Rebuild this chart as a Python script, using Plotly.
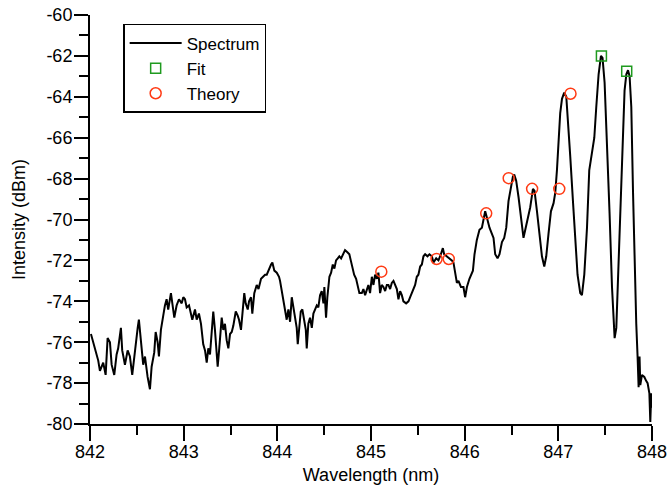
import plotly.graph_objects as go

wavelength = [
    842.010, 842.052, 842.088, 842.106, 842.141, 842.167, 842.188, 842.213, 842.231, 842.259,
    842.284, 842.301, 842.330, 842.344, 842.373, 842.402, 842.426, 842.451, 842.480, 842.509,
    842.522, 842.544, 842.568, 842.587, 842.615, 842.640, 842.658, 842.686, 842.701, 842.722,
    842.736, 842.757, 842.782, 842.800, 842.818, 842.835, 842.864, 842.878, 842.900, 842.925,
    842.950, 842.979, 842.996, 843.014, 843.032, 843.057, 843.078, 843.092, 843.121, 843.139,
    843.163, 843.185, 843.209, 843.228, 843.246, 843.263, 843.281, 843.299, 843.316, 843.334,
    843.353, 843.363, 843.380, 843.406, 843.423, 843.441, 843.459, 843.477, 843.495, 843.513,
    843.530, 843.556, 843.577, 843.591, 843.612, 843.626, 843.647, 843.662, 843.684, 843.698,
    843.719, 843.733, 843.754, 843.780, 843.799, 843.826, 843.851, 843.869, 843.887, 843.911,
    843.933, 843.947, 843.968, 843.994, 844.018, 844.029, 844.047, 844.064, 844.082, 844.100,
    844.118, 844.136, 844.154, 844.171, 844.189, 844.207, 844.218, 844.235, 844.250, 844.267,
    844.285, 844.304, 844.314, 844.331, 844.349, 844.368, 844.385, 844.403, 844.421, 844.438,
    844.456, 844.474, 844.492, 844.502, 844.520, 844.534, 844.556, 844.574, 844.592, 844.609,
    844.627, 844.645, 844.662, 844.681, 844.699, 844.723, 844.748, 844.769, 844.784, 844.806,
    844.820, 844.841, 844.855, 844.876, 844.902, 844.919, 844.937, 844.955, 844.972, 844.990,
    845.009, 845.026, 845.044, 845.062, 845.079, 845.097, 845.115, 845.133, 845.151, 845.169,
    845.186, 845.204, 845.222, 845.240, 845.258, 845.276, 845.293, 845.311, 845.329, 845.346,
    845.375, 845.400, 845.418, 845.447, 845.471, 845.489, 845.506, 845.525, 845.543, 845.560,
    845.578, 845.603, 845.624, 845.650, 845.667, 845.696, 845.720, 845.746, 845.767, 845.781,
    845.810, 845.838, 845.863, 845.880, 845.899, 845.917, 845.934, 845.960, 845.987, 846.005,
    846.024, 846.051, 846.088, 846.105, 846.130, 846.158, 846.184, 846.201, 846.219, 846.237,
    846.265, 846.291, 846.308, 846.326, 846.351, 846.372, 846.398, 846.422, 846.444, 846.468,
    846.494, 846.515, 846.529, 846.550, 846.575, 846.601, 846.628, 846.647, 846.671, 846.700,
    846.729, 846.746, 846.772, 846.799, 846.825, 846.850, 846.871, 846.895, 846.921, 846.949,
    846.967, 846.985, 847.002, 847.020, 847.039, 847.063, 847.085, 847.103, 847.127, 847.156,
    847.181, 847.205, 847.234, 847.252, 847.277, 847.306, 847.330, 847.359, 847.384, 847.405,
    847.430, 847.455, 847.472, 847.494, 847.519, 847.547, 847.573, 847.590, 847.601, 847.619,
    847.637, 847.661, 847.686, 847.707, 847.726, 847.744, 847.761, 847.779, 847.797, 847.814,
    847.832, 847.846, 847.857, 847.867, 847.875, 847.893, 847.918, 847.939, 847.953, 847.972,
    847.982, 847.992, 847.998,
]

intensity = [
    -75.6, -76.3, -76.9, -77.4, -77.0, -77.6, -75.8, -76.0, -77.1, -77.6,
    -76.6, -76.3, -75.3, -76.4, -77.1, -76.4, -76.7, -77.6, -76.3, -75.3,
    -74.9, -76.1, -77.1, -76.7, -77.7, -78.3, -77.2, -76.5, -75.5, -76.0,
    -76.7, -75.4, -74.6, -74.2, -73.9, -74.4, -73.6, -74.1, -74.8, -74.2,
    -73.9, -74.1, -73.8, -73.9, -74.3, -74.2, -74.6, -74.9, -74.4, -74.9,
    -74.6, -75.1, -76.1, -76.4, -77.0, -76.3, -76.6, -75.3, -74.5, -75.4,
    -76.4, -77.2, -76.3, -74.8, -75.4, -75.1, -75.9, -76.3, -75.6, -75.5,
    -75.2, -74.5, -74.7, -74.9, -75.4, -74.6, -73.6, -74.1, -74.4, -74.0,
    -73.8, -74.6, -73.6, -73.2, -73.4, -72.9, -72.8, -72.7, -72.7, -72.4,
    -72.2, -72.1, -72.5, -72.6, -72.8, -73.0, -73.5, -74.0, -74.3, -74.9,
    -74.4, -75.0, -73.8, -74.3, -74.9, -75.3, -76.1, -75.1, -74.5, -74.4,
    -74.8, -75.4, -76.3, -75.1, -74.8, -75.3, -74.6, -74.4, -74.2, -74.3,
    -73.7, -73.5, -74.1, -73.3, -74.8, -73.8, -72.8, -72.6, -72.2, -72.4,
    -72.0, -71.9, -71.8, -71.9, -71.7, -71.5, -71.6, -71.7, -72.0, -72.4,
    -72.7, -72.9, -73.2, -73.6, -73.6, -73.4, -73.7, -73.4, -73.2, -73.6,
    -72.8, -73.2, -72.7, -72.9, -72.6, -73.6, -73.2, -73.3, -73.5, -73.2,
    -73.2, -73.4, -73.1, -73.0, -73.2, -73.4, -73.9, -73.5, -73.7, -74.0,
    -74.1, -74.0, -73.8, -73.5, -73.2, -72.8, -72.7, -72.3, -72.2, -71.8,
    -71.7, -71.8, -71.7, -71.8, -72.1, -71.9, -72.0, -71.7, -71.4, -71.7,
    -71.8, -71.9, -72.0, -72.1, -72.6, -73.1, -73.0, -73.3, -73.3, -73.8,
    -73.3, -72.9, -72.5, -71.7, -71.0, -70.5, -70.4, -69.9, -69.6, -69.9,
    -70.4, -70.7, -70.9, -71.7, -71.9, -71.7, -71.1, -70.9, -70.4, -69.1,
    -68.4, -67.9, -67.8, -68.1, -68.9, -70.0, -70.9, -70.5, -70.0, -69.4,
    -68.5, -68.6, -69.6, -70.9, -71.8, -72.3, -71.8, -70.7, -69.6, -69.2,
    -68.7, -67.6, -66.1, -64.8, -64.1, -63.8, -64.0, -65.1, -66.9, -69.1,
    -71.2, -72.7, -73.6, -73.7, -72.7, -70.4, -67.6, -66.6, -66.0, -64.5,
    -62.9, -62.0, -62.1, -63.3, -66.1, -69.7, -73.3, -75.3, -75.8, -75.3,
    -73.0, -69.4, -66.1, -63.7, -62.9, -62.7, -63.0, -64.5, -68.6, -72.7,
    -75.1, -76.7, -78.2, -76.7, -78.1, -77.6, -77.7, -77.9, -78.0, -78.5,
    -79.9, -78.5, -79.2,
]

fit_wavelength = [847.46, 847.73]
fit_intensity = [-62.0, -62.75]

theory_wavelength = [845.11, 845.70, 845.83, 846.23, 846.47, 846.72, 847.01, 847.13]
theory_intensity = [-72.55, -71.93, -71.93, -69.7, -67.98, -68.5, -68.5, -63.85]

x_ticks = [842, 843, 844, 845, 846, 847, 848]
y_ticks = [-80, -78, -76, -74, -72, -70, -68, -66, -64, -62, -60]

FONT = "Liberation Sans, Arial, sans-serif"

fig = go.Figure()
fig.add_trace(go.Scatter(
    x=wavelength, y=intensity, mode="lines", name="Spectrum",
    line=dict(color="black", width=2),
))
fig.add_trace(go.Scatter(
    x=fit_wavelength, y=fit_intensity, mode="markers", name="Fit",
    marker=dict(symbol="square-open", size=10, color="#1f9a1f", line=dict(width=1.5)),
))
fig.add_trace(go.Scatter(
    x=theory_wavelength, y=theory_intensity, mode="markers", name="Theory",
    marker=dict(symbol="circle-open", size=11, color="#ff3a14", line=dict(width=1.5)),
))

fig.update_layout(
    width=669, height=496,
    margin=dict(l=90, r=17, t=15, b=72),
    paper_bgcolor="white", plot_bgcolor="white",
    font=dict(family=FONT, size=18, color="black"),
    showlegend=True,
    legend=dict(
        x=0.059, y=0.978, xanchor="left", yanchor="top",
        bordercolor="black", borderwidth=1.5, bgcolor="white",
        font=dict(family=FONT, size=17, color="black"),
        itemwidth=52, tracegroupgap=0,
    ),
    xaxis=dict(
        range=[842, 848], tickvals=x_ticks, ticktext=[str(v) for v in x_ticks],
        showgrid=False, zeroline=False,
        showline=True, linecolor="black", linewidth=2,
        ticks="outside", ticklen=15, tickwidth=1.5, tickcolor="black",
        minor=dict(dtick=0.5, ticks="outside", ticklen=9, tickwidth=1.5, tickcolor="black", showgrid=False),
        tickfont=dict(family=FONT, size=18),
        ticklabelstandoff=-5,
        ticklabeloverflow="allow",
        title=dict(text="Wavelength (nm)", font=dict(family=FONT, size=18), standoff=8),
        automargin=False,
    ),
    yaxis=dict(
        range=[-80, -60], tickvals=y_ticks, ticktext=[str(v) for v in y_ticks],
        showgrid=False, zeroline=False,
        showline=True, linecolor="black", linewidth=2,
        ticks="outside", ticklen=14, tickwidth=1.5, tickcolor="black",
        minor=dict(dtick=1, ticks="outside", ticklen=9, tickwidth=1.5, tickcolor="black", showgrid=False),
        tickfont=dict(family=FONT, size=18),
        ticklabelstandoff=-2,
        ticklabeloverflow="allow",
        title=dict(text="Intensity (dBm)", font=dict(family=FONT, size=18), standoff=16),
        automargin=False,
    ),
)

# remove the browser's default 8px body margin so the figure fills the window exactly
fig.write_html(
    "out.html",
    config={"displayModeBar": False},
    post_script="document.body.style.margin='0px';",
)
